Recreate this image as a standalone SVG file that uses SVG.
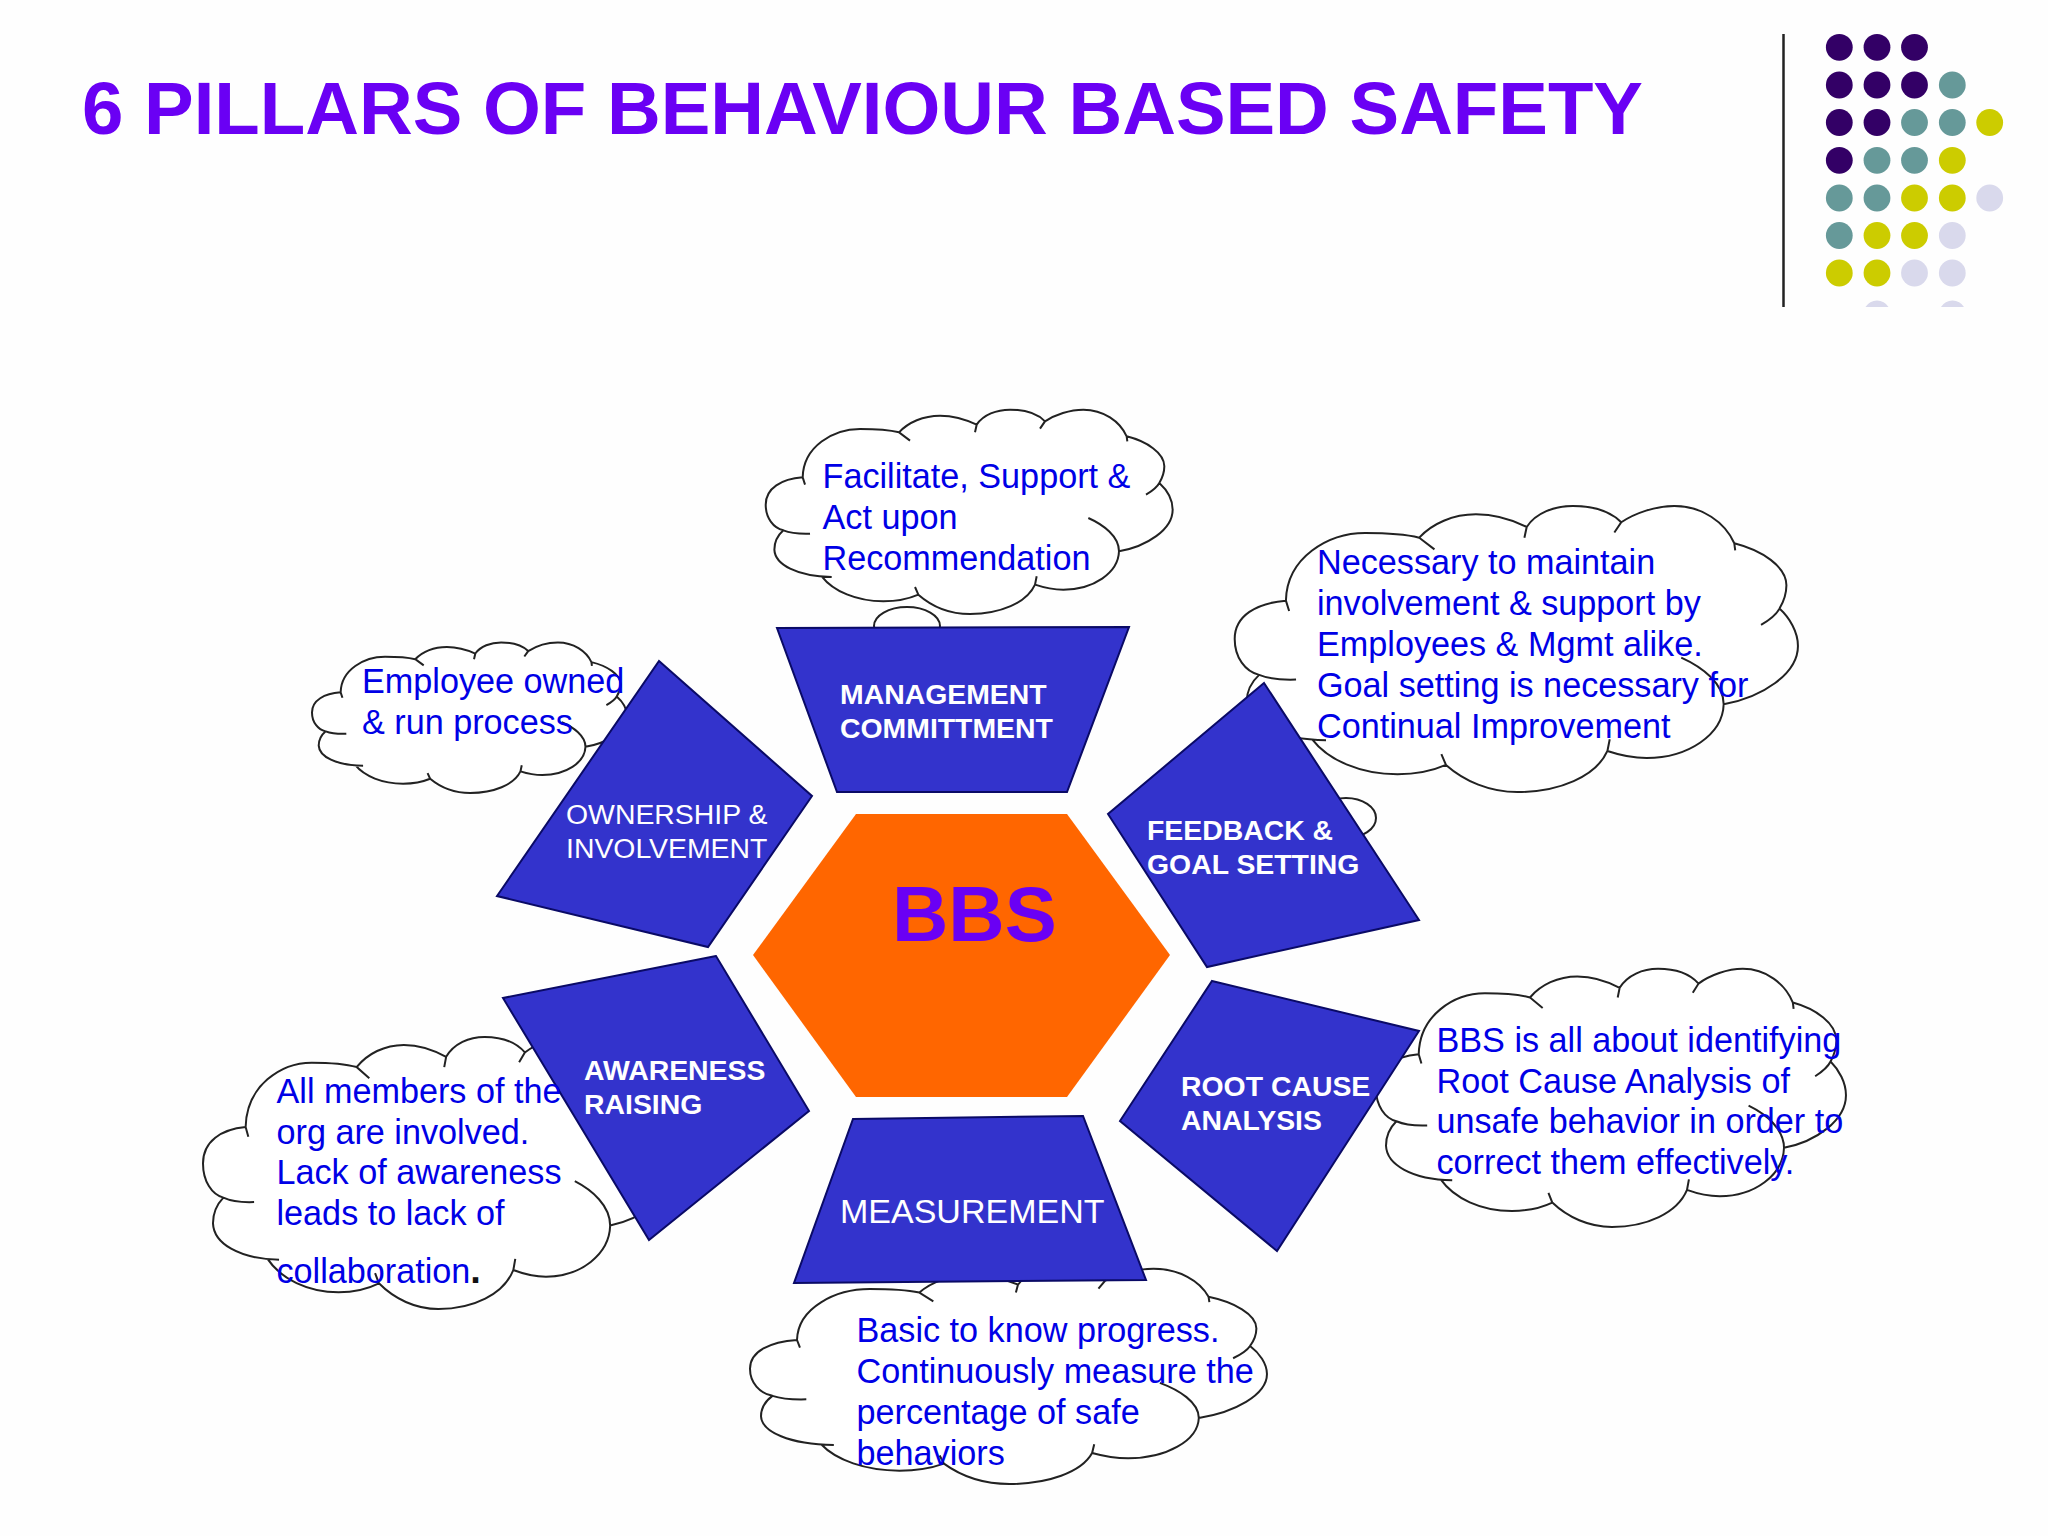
<svg xmlns="http://www.w3.org/2000/svg" xmlns:xlink="http://www.w3.org/1999/xlink" width="2048" height="1536" viewBox="0 0 2048 1536">
<style>
text{font-family:"Liberation Sans",Arial,sans-serif}
.title{font-size:74.4px;font-weight:700;fill:#6a00f4}
.call{font-size:34.2px;fill:#0000e6}
.lab{font-size:28.4px;fill:#fff}
.b{font-weight:700}
.pillar{fill:#3333cc;stroke:#0a0a66;stroke-width:2;stroke-linejoin:miter}
.cf{fill:#fff;stroke:none}
.cs{fill:none;stroke:#222;stroke-width:2;vector-effect:non-scaling-stroke}
.tail{fill:#fff;stroke:#222;stroke-width:2}
.pu{fill:#330066}.te{fill:#669999}.ye{fill:#cccc00}.la{fill:#d9d9ec}
</style>
<defs>
<g id="cloud">
<path class="cf" d="M248,293C185,298 137,325 137,375C137,415 160,445 190,452C170,470 163,490 163,510C165,555 230,590 305,590C340,635 410,665 490,665C530,665 565,658 595,645C635,680 690,703 750,703C840,703 920,670 945,615C975,625 1000,630 1030,630C1120,630 1195,580 1197,515C1280,500 1358,450 1358,390C1358,360 1340,330 1318,310C1330,290 1333,275 1333,260C1333,220 1280,185 1220,170C1200,125 1150,90 1090,90C1050,90 1005,105 975,125C950,100 915,90 870,90C830,90 790,105 770,135C735,118 700,108 660,108C610,108 565,128 537,158C505,150 470,148 420,148C340,148 250,200 248,293Z"/>
<path class="cs" d="M255,315L248,293C185,298 137,325 137,375C137,415 160,445 190,452C210,460 240,463 270,462M190,452C170,470 163,490 163,510C165,555 230,590 335,592M305,590C340,635 410,665 490,665C530,665 565,658 595,645L585,622M595,645C635,680 690,703 750,703C840,703 920,670 945,615L950,590M945,615C975,625 1000,630 1030,630C1120,630 1195,580 1197,515C1197,470 1150,435 1105,415M1197,515C1280,500 1358,450 1358,390C1358,360 1340,330 1318,310C1310,325 1295,335 1278,345M1318,310C1330,290 1333,275 1333,260C1333,220 1280,185 1220,170L1222,185M1220,170C1200,125 1150,90 1090,90C1050,90 1005,105 975,125L960,147M975,125C950,100 915,90 870,90C830,90 790,105 770,135L765,158M770,135C735,118 700,108 660,108C610,108 565,128 537,158L570,183M537,158C505,150 470,148 420,148C340,148 250,200 248,293"/>
</g>
</defs>
<rect width="2048" height="1536" fill="#fefefe"/>
<text id="title" class="title" x="82" y="134">6 PILLARS OF BEHAVIOUR BASED SAFETY</text>
<g id="corner-decoration">
<path d="M1783.5,34V307" stroke="#222" stroke-width="2.5" fill="none"/>
<g>
<circle class="pu" cx="1839.3" cy="47.3" r="13.4"/><circle class="pu" cx="1877" cy="47.3" r="13.4"/><circle class="pu" cx="1914.5" cy="47.3" r="13.4"/>
<circle class="pu" cx="1839.3" cy="85" r="13.4"/><circle class="pu" cx="1877" cy="85" r="13.4"/><circle class="pu" cx="1914.5" cy="85" r="13.4"/><circle class="te" cx="1952.3" cy="85" r="13.4"/>
<circle class="pu" cx="1839.3" cy="122.5" r="13.4"/><circle class="pu" cx="1877" cy="122.5" r="13.4"/><circle class="te" cx="1914.5" cy="122.5" r="13.4"/><circle class="te" cx="1952.3" cy="122.5" r="13.4"/><circle class="ye" cx="1989.7" cy="122.5" r="13.4"/>
<circle class="pu" cx="1839.3" cy="160.3" r="13.4"/><circle class="te" cx="1877" cy="160.3" r="13.4"/><circle class="te" cx="1914.5" cy="160.3" r="13.4"/><circle class="ye" cx="1952.3" cy="160.3" r="13.4"/>
<circle class="te" cx="1839.3" cy="198" r="13.4"/><circle class="te" cx="1877" cy="198" r="13.4"/><circle class="ye" cx="1914.5" cy="198" r="13.4"/><circle class="ye" cx="1952.3" cy="198" r="13.4"/><circle class="la" cx="1989.7" cy="198" r="13.4"/>
<circle class="te" cx="1839.3" cy="235.5" r="13.4"/><circle class="ye" cx="1877" cy="235.5" r="13.4"/><circle class="ye" cx="1914.5" cy="235.5" r="13.4"/><circle class="la" cx="1952.3" cy="235.5" r="13.4"/>
<circle class="ye" cx="1839.3" cy="273" r="13.4"/><circle class="ye" cx="1877" cy="273" r="13.4"/><circle class="la" cx="1914.5" cy="273" r="13.4"/><circle class="la" cx="1952.3" cy="273" r="13.4"/>
<path class="la" d="M1865.5,307A13.4,13.4 0 0 1 1888.5,307ZM1941,307A13.4,13.4 0 0 1 1964,307Z"/>
</g>
</g>
<g id="cloud-management"><ellipse class="tail" cx="907" cy="626" rx="33" ry="19"/><use href="#cloud" transform="translate(765.7,409) scale(.3333,.3333) translate(-137,-88)"/></g>
<g id="cloud-feedback"><ellipse class="tail" cx="1346" cy="818" rx="30" ry="20"/><use href="#cloud" transform="translate(1234.7,505) scale(.4613,.4667) translate(-137,-88)"/></g>
<g id="cloud-root"><ellipse class="tail" cx="1380" cy="1083" rx="18" ry="11"/><use href="#cloud" transform="translate(1376,968) scale(.3849,.4211) translate(-137,-88)"/></g>
<g id="cloud-measurement"><use href="#cloud" transform="translate(750,1268) scale(.4234,.3512) translate(-137,-88)"/></g>
<g id="cloud-awareness"><use href="#cloud" transform="translate(203,1036) scale(.3841,.444) translate(-137,-88)"/></g>
<g id="cloud-ownership"><use href="#cloud" transform="translate(312,642) scale(.258,.2455) translate(-137,-88)"/></g>
<g id="pillar-management"><polygon class="pillar" points="777,628 1129,627 1067,792 837,792"/><text class="lab b" x="840" y="704">MANAGEMENT</text><text class="lab b" x="840" y="738">COMMITTMENT</text></g>
<g id="pillar-ownership"><polygon class="pillar" points="659,661 812,796 708,947 497,896"/><text class="lab" x="566" y="824">OWNERSHIP &amp;</text><text class="lab" x="566" y="858">INVOLVEMENT</text></g>
<g id="pillar-feedback"><polygon class="pillar" points="1264,683 1108,814 1207,967 1419,920"/><text class="lab b" x="1147" y="840">FEEDBACK &amp;</text><text class="lab b" x="1147" y="874">GOAL SETTING</text></g>
<g id="pillar-root"><polygon class="pillar" points="1212,981 1419,1031 1277,1251 1120,1121"/><text class="lab b" x="1181" y="1096">ROOT CAUSE</text><text class="lab b" x="1181" y="1130">ANALYSIS</text></g>
<g id="pillar-measurement"><polygon class="pillar" points="853,1119 1083,1116 1146,1280 794,1283"/><text class="lab" style="font-size:34px" x="840" y="1223">MEASUREMENT</text></g>
<g id="pillar-awareness"><polygon class="pillar" points="716,956 503,998 649,1240 809,1111"/><text class="lab b" x="584" y="1080">AWARENESS</text><text class="lab b" x="584" y="1114">RAISING</text></g>
<g id="hub"><polygon points="753,955 856,814 1067,814 1170,955 1067,1097 856,1097" fill="#ff6600"/><text x="892" y="941" font-size="78" font-weight="700" fill="#6a00f4">BBS</text></g>
<g id="text-management"><text class="call" x="822.5" y="488">Facilitate, Support &amp;</text><text class="call" x="822.5" y="529">Act upon</text><text class="call" x="822.5" y="570">Recommendation</text></g>
<g id="text-feedback"><text class="call" x="1317" y="574">Necessary to maintain</text><text class="call" x="1317" y="615">involvement &amp; support by</text><text class="call" x="1317" y="656">Employees &amp; Mgmt alike.</text><text class="call" x="1317" y="697">Goal setting is necessary for</text><text class="call" x="1317" y="738">Continual Improvement</text></g>
<g id="text-root"><text class="call" x="1436.5" y="1052">BBS is all about identifying</text><text class="call" x="1436.5" y="1093">Root Cause Analysis of</text><text class="call" x="1436.5" y="1133">unsafe behavior in order to</text><text class="call" x="1436.5" y="1174">correct them effectively.</text></g>
<g id="text-measurement"><text class="call" x="856.5" y="1342">Basic to know progress.</text><text class="call" x="856.5" y="1383">Continuously measure the</text><text class="call" x="856.5" y="1424">percentage of safe</text><text class="call" x="856.5" y="1465">behaviors</text></g>
<g id="text-awareness"><text class="call" x="276.5" y="1103">All members of the</text><text class="call" x="276.5" y="1144">org are involved.</text><text class="call" x="276.5" y="1184">Lack of awareness</text><text class="call" x="276.5" y="1225">leads to lack of</text><text class="call" x="276.5" y="1283">collaboration<tspan fill="#111" font-weight="700" font-size="38">.</tspan></text></g>
<g id="text-ownership"><text class="call" x="362" y="693">Employee owned</text><text class="call" x="362" y="734">&amp; run process</text></g>
</svg>
